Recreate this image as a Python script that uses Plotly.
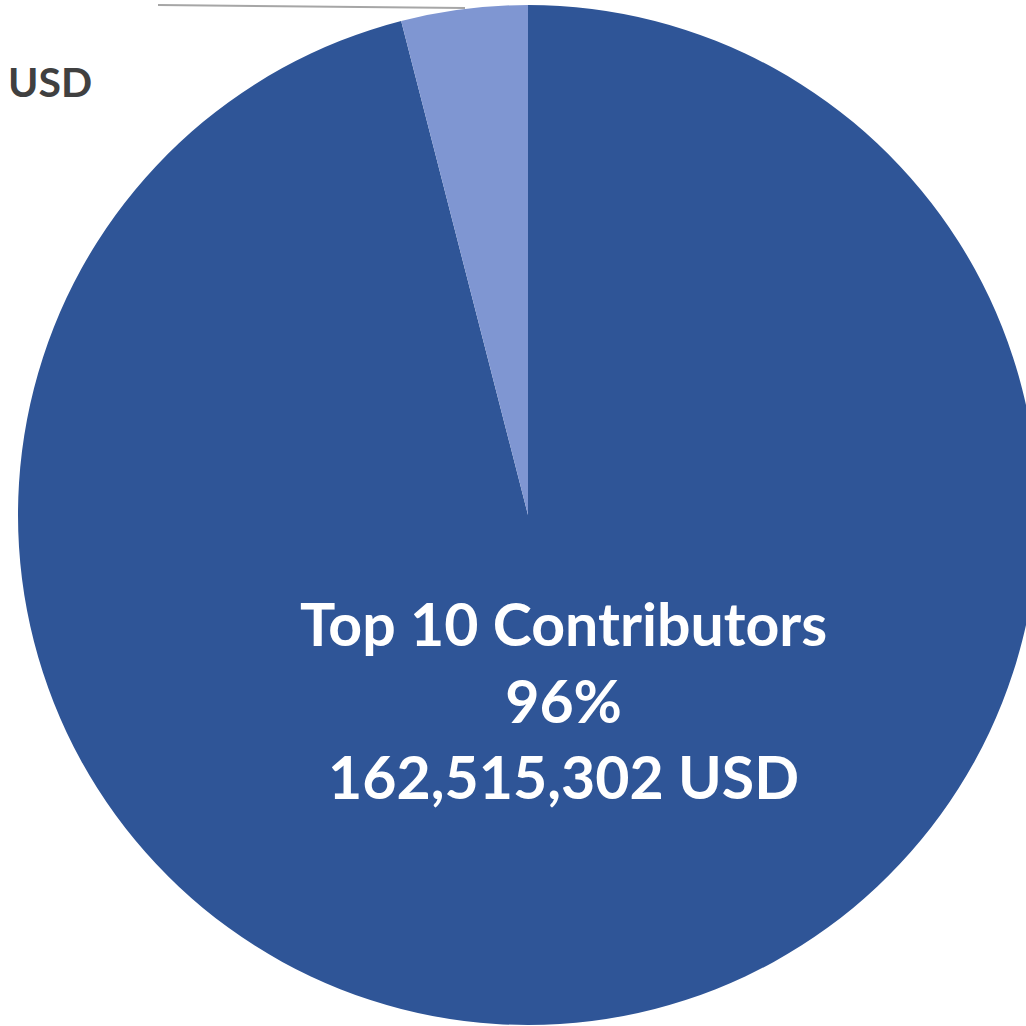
import plotly.graph_objects as go

# ---- data ----
labels = ["Top 10 Contributors", "Other Contributors"]
values = [162515302, 6771471]
colors = ["#2F5597", "#7F96D2"]

total = sum(values)
pcts = [v / total * 100 for v in values]

W, H = 1038, 1030
L, T = 18, 5
D = 1020  # domain size in px


def px(x):
    return (x - L) / D


def py(y):
    return 1 - (y - T) / D


fig = go.Figure(
    go.Pie(
        labels=labels,
        values=values,
        sort=False,
        direction="clockwise",
        rotation=0,
        marker=dict(colors=colors, line=dict(width=0)),
        textinfo="none",
        hoverinfo="label+value+percent",
        showlegend=False,
        domain=dict(x=[0, 1], y=[0, 1]),
    )
)

center_text = "{}<br>{:.0f}%<br>{:,} USD".format(labels[0], pcts[0], values[0])
fig.add_annotation(
    x=px(563), y=py(700), xref="paper", yref="paper",
    xanchor="center", yanchor="middle",
    text=center_text, showarrow=False, align="center",
    font=dict(family="Lato", size=59, color="white", weight="bold"),
)

# outside label for the small slice (only its last line is within the frame)
fig.add_annotation(
    x=px(50), y=py(82), xref="paper", yref="paper",
    xanchor="center", yanchor="middle",
    text="USD", showarrow=False, align="center",
    font=dict(family="Lato", size=41, color="#404040", weight="bold"),
)

# leader line
fig.add_shape(
    type="line", xref="paper", yref="paper",
    x0=px(158), y0=py(5), x1=px(465), y1=py(8),
    line=dict(color="#A6A6A6", width=2),
)

fig.update_layout(
    width=W, height=H,
    margin=dict(l=L, r=0, t=T, b=H - T - D),
    paper_bgcolor="white",
    plot_bgcolor="white",
)

fig.write_html(
    "out.html",
    config={"displayModeBar": False},
    post_script="document.body.style.margin='0';document.body.style.overflow='hidden';",
)
